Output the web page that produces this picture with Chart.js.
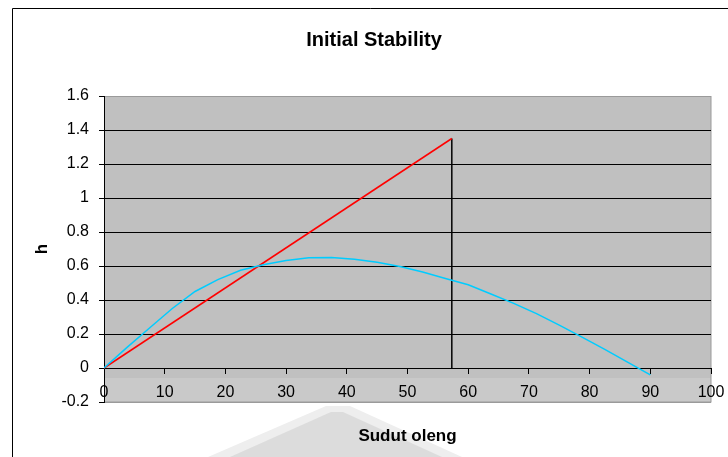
<!DOCTYPE html>
<html>
<head>
<meta charset="utf-8">
<title>Initial Stability</title>
<script src="https://cdn.jsdelivr.net/npm/chart.js@4.4.1/dist/chart.umd.min.js"></script>
<style>
  html, body { margin: 0; padding: 0; background: #ffffff; }
  canvas { display: block; }
</style>
</head>
<body>
<canvas id="stability" width="728" height="457"></canvas>
<script>
// Heel angle (degrees) and righting arm GZ (m)
const angleDeg = [0, 3.75, 7.5, 11.25, 15, 18.75, 22.5, 26.25, 30, 33.75, 37.5, 41.25, 45,
                  48.75, 52.5, 56.25, 60, 63.75, 67.5, 71.25, 75, 78.75, 82.5, 86.25, 90];
const gzValues = [0, 0.12, 0.235, 0.35, 0.45, 0.52, 0.575, 0.607, 0.633, 0.648, 0.65, 0.64, 0.622,
                  0.597, 0.565, 0.527, 0.49, 0.435, 0.38, 0.32, 0.252, 0.182, 0.11, 0.035, -0.04];

// Initial metacentric height GM, laid off at one radian (57.3 deg)
const gmAngleDeg = 57.3;
const gmValue = 1.35;

// Axis ticks
const xTickValues = [0, 10, 20, 30, 40, 50, 60, 70, 80, 90, 100];
const yTickValues = [-0.2, 0, 0.2, 0.4, 0.6, 0.8, 1, 1.2, 1.4, 1.6];

const FONT = '"Liberation Sans", Arial, sans-serif';
Chart.defaults.font.family = FONT;
Chart.defaults.color = '#000000';

// Frame, plot background, label band and the title
const decorations = {
  id: 'decorations',
  beforeDraw(chart) {
    const { ctx, chartArea: a, scales } = chart;
    ctx.save();
    ctx.fillStyle = '#ffffff';
    ctx.fillRect(0, 0, chart.width, chart.height);

    // faint background emblem under the axis title
    ctx.fillStyle = '#eeeeee';
    ctx.beginPath();
    ctx.moveTo(208, 457); ctx.lineTo(326, 406); ctx.lineTo(350, 406); ctx.lineTo(462, 457);
    ctx.closePath(); ctx.fill();
    ctx.fillStyle = '#dcdcdc';
    ctx.beginPath();
    ctx.moveTo(230, 457); ctx.lineTo(331, 412); ctx.lineTo(343, 412); ctx.lineTo(442, 457);
    ctx.closePath(); ctx.fill();

    // outer chart frame
    ctx.strokeStyle = '#000000';
    ctx.lineWidth = 1;
    ctx.beginPath();
    ctx.moveTo(12.5, chart.height);
    ctx.lineTo(12.5, 8.5);
    ctx.lineTo(chart.width, 8.5);
    ctx.stroke();

    // plot area
    ctx.fillStyle = '#c0c0c0';
    ctx.fillRect(a.left, a.top, a.right - a.left, a.bottom - a.top);
    const zeroY = scales.y.getPixelForValue(0);
    ctx.fillStyle = '#c9c9c9';
    ctx.fillRect(a.left, zeroY + 10, a.right - a.left, a.bottom - zeroY - 10);
    ctx.strokeStyle = '#9a9a9a';
    ctx.lineWidth = 1;
    ctx.strokeRect(a.left + 0.5, a.top + 0.5, a.right - a.left - 0.5, a.bottom - a.top - 0.5);
    ctx.restore();
  },
  afterDraw(chart) {
    const { ctx } = chart;
    ctx.save();
    ctx.fillStyle = '#000000';
    ctx.font = 'bold 20px ' + FONT;
    ctx.textAlign = 'center';
    ctx.textBaseline = 'middle';
    ctx.fillText('Initial Stability', 374, 40);
    ctx.restore();
  }
};

// keep tick labels from pushing the plot area inwards
const noLabelPadding = s => {
  s.paddingLeft = 0; s.paddingRight = 0; s.paddingTop = 0; s.paddingBottom = 0;
};

new Chart(document.getElementById('stability'), {
  type: 'scatter',
  data: {
    datasets: [
      {
        label: 'GZ',
        data: angleDeg.map((x, i) => ({ x, y: gzValues[i] })),
        showLine: true,
        borderColor: '#00ccff',
        borderWidth: 1.5,
        pointRadius: 0,
        tension: 0
      },
      {
        label: 'GM tangent',
        data: [{ x: 0, y: 0 }, { x: gmAngleDeg, y: gmValue }],
        showLine: true,
        borderColor: '#ff0000',
        borderWidth: 1.5,
        pointRadius: 0
      },
      {
        label: 'GM',
        data: [{ x: gmAngleDeg, y: 0 }, { x: gmAngleDeg, y: gmValue }],
        showLine: true,
        borderColor: '#000000',
        borderWidth: 1.5,
        pointRadius: 0
      }
    ]
  },
  options: {
    responsive: false,
    animation: false,
    devicePixelRatio: 1,
    layout: { padding: { top: 96, left: 0, right: 17, bottom: 0 } },
    plugins: {
      legend: { display: false },
      title: { display: false },
      tooltip: { enabled: false }
    },
    scales: {
      x: {
        type: 'linear',
        position: { y: 0 },
        min: 0,
        max: 100,
        afterBuildTicks: s => { s.ticks = xTickValues.map(v => ({ value: v })); },
        afterFit: s => { s.height = 0; noLabelPadding(s); },
        grid: { drawOnChartArea: false, drawTicks: true, tickLength: 5, tickColor: '#000000' },
        border: { display: true, color: '#000000', width: 1 },
        ticks: { font: { size: 16 }, padding: 10, maxRotation: 0, autoSkip: false, callback: v => String(v) }
      },
      xTitle: {
        type: 'linear',
        axis: 'x',
        position: 'bottom',
        min: 0,
        max: 100,
        afterFit: s => { s.height = 55; noLabelPadding(s); },
        grid: { display: false },
        border: { display: false },
        ticks: { display: false },
        title: { display: true, text: 'Sudut oleng', font: { size: 17, weight: 'bold' }, padding: { top: 0, bottom: 10 } }
      },
      y: {
        type: 'linear',
        position: 'left',
        min: -0.2,
        max: 1.6,
        afterBuildTicks: s => { s.ticks = yTickValues.map(v => ({ value: v })); },
        afterFit: s => { s.width = 104; noLabelPadding(s); },
        grid: {
          color: c => (c.tick && (c.tick.value === 1.6 || c.tick.value === -0.2)) ? '#9a9a9a' : '#000000',
          tickColor: '#000000',
          tickLength: 5,
          lineWidth: 1
        },
        border: { display: true, color: '#000000', width: 1 },
        ticks: { font: { size: 16 }, padding: 10, autoSkip: false, callback: v => String(Math.round(v * 10) / 10) },
        title: { display: true, text: 'h', font: { size: 17, weight: 'bold' }, padding: { top: 32, bottom: 0 } }
      }
    }
  },
  plugins: [decorations]
});
</script>
</body>
</html>
